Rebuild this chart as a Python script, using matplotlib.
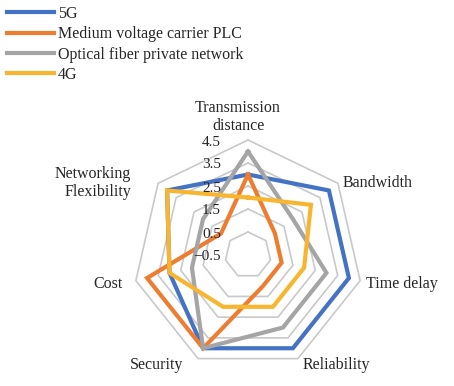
import numpy as np
import matplotlib
matplotlib.use("Agg")
import matplotlib.pyplot as plt

plt.rcParams['font.family'] = ['Liberation Serif', 'DejaVu Serif']

categories = ["Transmission\ndistance", "Bandwidth", "Time delay", "Reliability",
              "Security", "Cost", "Networking\nFlexibility"]
series_names = ["5G", "Medium voltage carrier PLC", "Optical fiber private network", "4G"]
values_5g = [3, 4, 4, 4, 4, 3, 4]
values_plc = [3, 1, 1, 1, 4, 4, 1]
values_optical = [4, 2, 3, 3, 4, 2, 2]
values_4g = [2, 3, 2, 2, 2, 3, 4]
ring_values = [0.5, 1.5, 2.5, 3.5, 4.5]
tick_values = [4.5, 3.5, 2.5, 1.5, 0.5, -0.5]
tick_labels = ["4.5", "3.5", "2.5", "1.5", "0.5", "\u22120.5"]

colors = ["#4472C4", "#ED7D31", "#A5A5A5", "#F8B630"]
all_values = [values_5g, values_plc, values_optical, values_4g]

W, H = 454, 386
fig = plt.figure(figsize=(W / 100, H / 100), dpi=100)
cx, cy, R = 248, 255, 115
ax = fig.add_axes([(cx - R) / W, (H - cy - R) / H, 2 * R / W, 2 * R / H], projection='polar')
ax.set_theta_offset(np.pi / 2)
ax.set_theta_direction(-1)
ax.set_ylim(-0.5, 4.5)
ax.grid(False)
ax.spines['polar'].set_visible(False)
ax.set_xticks([])
ax.set_yticks([])
ax.patch.set_visible(False)

n = len(categories)
theta = np.linspace(0, 2 * np.pi, n, endpoint=False)
theta_closed = np.append(theta, theta[0])

for v in ring_values:
    ax.plot(theta_closed, [v] * (n + 1), color="#C9C9C9", lw=1.2, clip_on=False, zorder=1)

handles = []
for name, vals, col in zip(series_names, all_values, colors):
    vv = list(vals) + [vals[0]]
    h, = ax.plot(theta_closed, vv, color=col, lw=3.0, clip_on=False, zorder=3,
                 solid_joinstyle='miter', label=name)
    handles.append(h)

txt_color = '#262626'
fs_tick = 11
fs_lab = 11.5
fs_leg = 11.5
px = 0.72  # pixels -> points at dpi 100
for v, lab in zip(tick_values, tick_labels):
    ax.annotate(lab, xy=(0, v), xytext=(-27 * px, -2 * px), textcoords='offset points',
                ha='right', va='center', fontsize=fs_tick, color=txt_color, annotation_clip=False)

# label offsets (pixels) from outer vertex, and alignment
label_specs = [
    ((-10, 6), 'center', 'bottom'),
    ((5, 0), 'left', 'center'),
    ((6, -3.5), 'left', 'center'),
    ((5, -6.5), 'left', 'center'),
    ((-15, -6.5), 'right', 'center'),
    ((-13, -3.5), 'right', 'center'),
    ((-27, 0), 'right', 'center'),
]
for t, lab, (off, ha, va) in zip(theta, categories, label_specs):
    ax.annotate(lab, xy=(t, 4.5), xytext=(off[0] * px, off[1] * px), textcoords='offset points',
                ha=ha, va=va, multialignment=ha if ha != 'center' else 'center',
                fontsize=fs_lab, color=txt_color, annotation_clip=False, linespacing=1.2)

leg = fig.legend(handles=handles, labels=series_names, loc='upper left',
                 bbox_to_anchor=(7 / W, 1 - 6 / H), frameon=False, fontsize=fs_leg,
                 handlelength=2.94, handletextpad=0.25, labelspacing=0.27,
                 borderpad=0, borderaxespad=0)
for t in leg.get_texts():
    t.set_color(txt_color)

fig.savefig("out.png", dpi=100)
